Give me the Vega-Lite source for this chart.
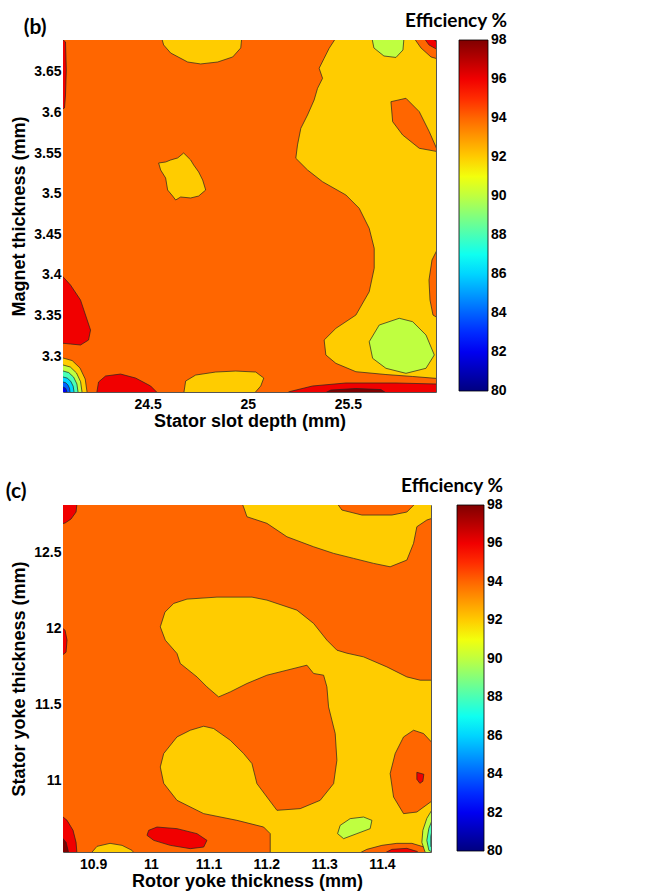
{
  "$schema": "https://vega.github.io/schema/vega-lite/v6.json",
  "padding": {"left": 5, "top": 12, "right": 160, "bottom": 2},
  "config": {
    "font": "Liberation Sans",
    "view": {"stroke": null},
    "axis": {
      "labelFont": "Liberation Sans", "labelFontSize": 14, "labelFontWeight": "bold", "labelColor": "black",
      "titleFont": "Liberation Sans", "titleFontSize": 18, "titleFontWeight": "bold", "titleColor": "black",
      "domainColor": "#555", "domainWidth": 1, "tickColor": "#444", "tickSize": -5,
      "grid": false, "zindex": 1
    },
    "axisX": {"labelPadding": 10.5},
    "axisY": {"labelPadding": 7},
    "title": {"font": "Lato", "fontSize": 21, "fontWeight": "bold", "color": "black", "anchor": "start", "frame": "bounds"}
  },
  "resolve": {"scale": {"x": "independent", "y": "independent", "color": "independent"}},
  "spacing": 46,
  "datasets": {
    "b": [
      {"id":"bg","z":0,"eff":94,"k":0,"x":24.07,"y":3.25},{"id":"bg","z":0,"eff":94,"k":1,"x":25.95,"y":3.25},{"id":"bg","z":0,"eff":94,"k":2,"x":25.95,"y":3.70},{"id":"bg","z":0,"eff":94,"k":3,"x":24.07,"y":3.70},

      {"id":"top","z":1,"eff":92,"k":0,"x":24.57,"y":3.6918},{"id":"top","z":1,"eff":92,"k":1,"x":24.58,"y":3.6832},{"id":"top","z":1,"eff":92,"k":2,"x":24.615,"y":3.6733},{"id":"top","z":1,"eff":92,"k":3,"x":24.70,"y":3.6622},{"id":"top","z":1,"eff":92,"k":4,"x":24.765,"y":3.6598},{"id":"top","z":1,"eff":92,"k":5,"x":24.85,"y":3.6622},{"id":"top","z":1,"eff":92,"k":6,"x":24.925,"y":3.6684},{"id":"top","z":1,"eff":92,"k":7,"x":24.965,"y":3.6795},{"id":"top","z":1,"eff":92,"k":8,"x":24.97,"y":3.6918},

      {"id":"east","z":1,"eff":92,"k":0,"x":25.95,"y":3.6918},{"id":"east","z":1,"eff":92,"k":1,"x":25.44,"y":3.6918},{"id":"east","z":1,"eff":92,"k":2,"x":25.4065,"y":3.6791},{"id":"east","z":1,"eff":92,"k":3,"x":25.3815,"y":3.6668},{"id":"east","z":1,"eff":92,"k":4,"x":25.3565,"y":3.6545},{"id":"east","z":1,"eff":92,"k":5,"x":25.3735,"y":3.6421},{"id":"east","z":1,"eff":92,"k":6,"x":25.3485,"y":3.6298},{"id":"east","z":1,"eff":92,"k":7,"x":25.3315,"y":3.6154},{"id":"east","z":1,"eff":92,"k":8,"x":25.2985,"y":3.5969},{"id":"east","z":1,"eff":92,"k":9,"x":25.265,"y":3.5805},{"id":"east","z":1,"eff":92,"k":10,"x":25.2485,"y":3.5600},{"id":"east","z":1,"eff":92,"k":11,"x":25.24,"y":3.5436},{"id":"east","z":1,"eff":92,"k":12,"x":25.2985,"y":3.5292},{"id":"east","z":1,"eff":92,"k":13,"x":25.3735,"y":3.5147},{"id":"east","z":1,"eff":92,"k":14,"x":25.49,"y":3.4984},{"id":"east","z":1,"eff":92,"k":15,"x":25.5565,"y":3.4820},{"id":"east","z":1,"eff":92,"k":16,"x":25.6065,"y":3.4573},{"id":"east","z":1,"eff":92,"k":17,"x":25.6315,"y":3.4327},{"id":"east","z":1,"eff":92,"k":18,"x":25.6315,"y":3.4081},{"id":"east","z":1,"eff":92,"k":19,"x":25.6065,"y":3.3792},{"id":"east","z":1,"eff":92,"k":20,"x":25.54,"y":3.3505},{"id":"east","z":1,"eff":92,"k":21,"x":25.44,"y":3.3341},{"id":"east","z":1,"eff":92,"k":22,"x":25.3815,"y":3.3197},{"id":"east","z":1,"eff":92,"k":23,"x":25.39,"y":3.3013},{"id":"east","z":1,"eff":92,"k":24,"x":25.44,"y":3.2910},{"id":"east","z":1,"eff":92,"k":25,"x":25.54,"y":3.2807},{"id":"east","z":1,"eff":92,"k":26,"x":25.69,"y":3.2772},{"id":"east","z":1,"eff":92,"k":27,"x":25.8235,"y":3.2748},{"id":"east","z":1,"eff":92,"k":28,"x":25.95,"y":3.2723},

      {"id":"hole","z":2,"eff":94,"k":0,"x":25.715,"y":3.6133},{"id":"hole","z":2,"eff":94,"k":1,"x":25.79,"y":3.6175},{"id":"hole","z":2,"eff":94,"k":2,"x":25.8565,"y":3.6010},{"id":"hole","z":2,"eff":94,"k":3,"x":25.9065,"y":3.5763},{"id":"hole","z":2,"eff":94,"k":4,"x":25.95,"y":3.5517},{"id":"hole","z":2,"eff":94,"k":5,"x":25.8565,"y":3.5559},{"id":"hole","z":2,"eff":94,"k":6,"x":25.7735,"y":3.5723},{"id":"hole","z":2,"eff":94,"k":7,"x":25.7235,"y":3.5887},

      {"id":"gtop","z":2,"eff":90,"k":0,"x":25.62,"y":3.6918},{"id":"gtop","z":2,"eff":90,"k":1,"x":25.63,"y":3.6795},{"id":"gtop","z":2,"eff":90,"k":2,"x":25.68,"y":3.6696},{"id":"gtop","z":2,"eff":90,"k":3,"x":25.74,"y":3.6678},{"id":"gtop","z":2,"eff":90,"k":4,"x":25.775,"y":3.6770},{"id":"gtop","z":2,"eff":90,"k":5,"x":25.78,"y":3.6918},

      {"id":"ow","z":2,"eff":94,"k":0,"x":25.83,"y":3.6918},{"id":"ow","z":2,"eff":94,"k":1,"x":25.865,"y":3.6795},{"id":"ow","z":2,"eff":94,"k":2,"x":25.915,"y":3.6684},{"id":"ow","z":2,"eff":94,"k":3,"x":25.95,"y":3.6659},{"id":"ow","z":2,"eff":94,"k":4,"x":25.95,"y":3.6918},
      {"id":"rw","z":3,"eff":96,"k":0,"x":25.88,"y":3.6918},{"id":"rw","z":3,"eff":96,"k":1,"x":25.905,"y":3.6832},{"id":"rw","z":3,"eff":96,"k":2,"x":25.95,"y":3.6770},{"id":"rw","z":3,"eff":96,"k":3,"x":25.95,"y":3.6918},
      {"id":"dw","z":4,"eff":98,"k":0,"x":25.92,"y":3.6918},{"id":"dw","z":4,"eff":98,"k":1,"x":25.95,"y":3.6856},{"id":"dw","z":4,"eff":98,"k":2,"x":25.95,"y":3.6918},

      {"id":"oe","z":2,"eff":94,"k":0,"x":25.95,"y":3.4331},{"id":"oe","z":2,"eff":94,"k":1,"x":25.92,"y":3.4183},{"id":"oe","z":2,"eff":94,"k":2,"x":25.905,"y":3.3936},{"id":"oe","z":2,"eff":94,"k":3,"x":25.91,"y":3.3690},{"id":"oe","z":2,"eff":94,"k":4,"x":25.925,"y":3.3505},{"id":"oe","z":2,"eff":94,"k":5,"x":25.95,"y":3.3468},

      {"id":"gb","z":2,"eff":90,"k":0,"x":25.6565,"y":3.3382},{"id":"gb","z":2,"eff":90,"k":1,"x":25.7565,"y":3.3465},{"id":"gb","z":2,"eff":90,"k":2,"x":25.8235,"y":3.3423},{"id":"gb","z":2,"eff":90,"k":3,"x":25.89,"y":3.3259},{"id":"gb","z":2,"eff":90,"k":4,"x":25.9315,"y":3.3013},{"id":"gb","z":2,"eff":90,"k":5,"x":25.89,"y":3.2849},{"id":"gb","z":2,"eff":90,"k":6,"x":25.79,"y":3.2787},{"id":"gb","z":2,"eff":90,"k":7,"x":25.69,"y":3.2849},{"id":"gb","z":2,"eff":90,"k":8,"x":25.6235,"y":3.2972},{"id":"gb","z":2,"eff":90,"k":9,"x":25.6065,"y":3.3176},

      {"id":"rs","z":1,"eff":96,"k":0,"x":25.19,"y":3.2532},{"id":"rs","z":1,"eff":96,"k":1,"x":25.2065,"y":3.2560},{"id":"rs","z":1,"eff":96,"k":2,"x":25.3235,"y":3.2631},{"id":"rs","z":1,"eff":96,"k":3,"x":25.49,"y":3.2668},{"id":"rs","z":1,"eff":96,"k":4,"x":25.74,"y":3.2668},{"id":"rs","z":1,"eff":96,"k":5,"x":25.95,"y":3.2655},{"id":"rs","z":1,"eff":96,"k":6,"x":25.95,"y":3.2532},
      {"id":"ds","z":2,"eff":98,"k":0,"x":25.375,"y":3.2532},{"id":"ds","z":2,"eff":98,"k":1,"x":25.415,"y":3.2581},{"id":"ds","z":2,"eff":98,"k":2,"x":25.54,"y":3.2600},{"id":"ds","z":2,"eff":98,"k":3,"x":25.665,"y":3.2587},{"id":"ds","z":2,"eff":98,"k":4,"x":25.70,"y":3.2532},

      {"id":"yb","z":1,"eff":92,"k":0,"x":24.68,"y":3.2532},{"id":"yb","z":1,"eff":92,"k":1,"x":24.69,"y":3.2692},{"id":"yb","z":1,"eff":92,"k":2,"x":24.74,"y":3.2766},{"id":"yb","z":1,"eff":92,"k":3,"x":24.84,"y":3.2803},{"id":"yb","z":1,"eff":92,"k":4,"x":24.94,"y":3.2815},{"id":"yb","z":1,"eff":92,"k":5,"x":25.04,"y":3.2803},{"id":"yb","z":1,"eff":92,"k":6,"x":25.08,"y":3.2729},{"id":"yb","z":1,"eff":92,"k":7,"x":25.065,"y":3.2631},{"id":"yb","z":1,"eff":92,"k":8,"x":25.03,"y":3.2532},

      {"id":"rbl","z":1,"eff":96,"k":0,"x":24.245,"y":3.2532},{"id":"rbl","z":1,"eff":96,"k":1,"x":24.255,"y":3.2680},{"id":"rbl","z":1,"eff":96,"k":2,"x":24.29,"y":3.2754},{"id":"rbl","z":1,"eff":96,"k":3,"x":24.365,"y":3.2778},{"id":"rbl","z":1,"eff":96,"k":4,"x":24.44,"y":3.2729},{"id":"rbl","z":1,"eff":96,"k":5,"x":24.515,"y":3.2631},{"id":"rbl","z":1,"eff":96,"k":6,"x":24.555,"y":3.2532},

      {"id":"rl","z":1,"eff":96,"k":0,"x":24.065,"y":3.4010},{"id":"rl","z":1,"eff":96,"k":1,"x":24.115,"y":3.3875},{"id":"rl","z":1,"eff":96,"k":2,"x":24.165,"y":3.3690},{"id":"rl","z":1,"eff":96,"k":3,"x":24.19,"y":3.3505},{"id":"rl","z":1,"eff":96,"k":4,"x":24.215,"y":3.3320},{"id":"rl","z":1,"eff":96,"k":5,"x":24.205,"y":3.3197},{"id":"rl","z":1,"eff":96,"k":6,"x":24.165,"y":3.3136},{"id":"rl","z":1,"eff":96,"k":7,"x":24.115,"y":3.3148},{"id":"rl","z":1,"eff":96,"k":8,"x":24.065,"y":3.3160},

      {"id":"rt","z":1,"eff":96,"k":0,"x":24.065,"y":3.6918},{"id":"rt","z":1,"eff":96,"k":1,"x":24.09,"y":3.6869},{"id":"rt","z":1,"eff":96,"k":2,"x":24.094,"y":3.6524},{"id":"rt","z":1,"eff":96,"k":3,"x":24.09,"y":3.6216},{"id":"rt","z":1,"eff":96,"k":4,"x":24.085,"y":3.6056},{"id":"rt","z":1,"eff":96,"k":5,"x":24.065,"y":3.6031},

      {"id":"c92","z":1,"eff":92,"k":0,"x":24.06,"y":3.25},{"id":"c92","z":1,"eff":92,"k":1,"x":24.1975,"y":3.25},{"id":"c92","z":1,"eff":92,"k":2,"x":24.1975,"y":3.2557},{"id":"c92","z":1,"eff":92,"k":3,"x":24.1884,"y":3.2717},{"id":"c92","z":1,"eff":92,"k":4,"x":24.1623,"y":3.2853},{"id":"c92","z":1,"eff":92,"k":5,"x":24.1234,"y":3.2944},{"id":"c92","z":1,"eff":92,"k":6,"x":24.0775,"y":3.2976},{"id":"c92","z":1,"eff":92,"k":7,"x":24.06,"y":3.2976},
      {"id":"c90","z":2,"eff":90,"k":0,"x":24.06,"y":3.25},{"id":"c90","z":2,"eff":90,"k":1,"x":24.1725,"y":3.25},{"id":"c90","z":2,"eff":90,"k":2,"x":24.1725,"y":3.2557},{"id":"c90","z":2,"eff":90,"k":3,"x":24.1653,"y":3.2684},{"id":"c90","z":2,"eff":90,"k":4,"x":24.1447,"y":3.2792},{"id":"c90","z":2,"eff":90,"k":5,"x":24.1139,"y":3.2865},{"id":"c90","z":2,"eff":90,"k":6,"x":24.0775,"y":3.2890},{"id":"c90","z":2,"eff":90,"k":7,"x":24.06,"y":3.2890},
      {"id":"c88","z":3,"eff":88,"k":0,"x":24.06,"y":3.25},{"id":"c88","z":3,"eff":88,"k":1,"x":24.1525,"y":3.25},{"id":"c88","z":3,"eff":88,"k":2,"x":24.1525,"y":3.2557},{"id":"c88","z":3,"eff":88,"k":3,"x":24.1468,"y":3.2656},{"id":"c88","z":3,"eff":88,"k":4,"x":24.1305,"y":3.2740},{"id":"c88","z":3,"eff":88,"k":5,"x":24.1062,"y":3.2796},{"id":"c88","z":3,"eff":88,"k":6,"x":24.0775,"y":3.2816},{"id":"c88","z":3,"eff":88,"k":7,"x":24.06,"y":3.2816},
      {"id":"c86","z":4,"eff":86,"k":0,"x":24.06,"y":3.25},{"id":"c86","z":4,"eff":86,"k":1,"x":24.1325,"y":3.25},{"id":"c86","z":4,"eff":86,"k":2,"x":24.1325,"y":3.2557},{"id":"c86","z":4,"eff":86,"k":3,"x":24.1283,"y":3.2628},{"id":"c86","z":4,"eff":86,"k":4,"x":24.1164,"y":3.2688},{"id":"c86","z":4,"eff":86,"k":5,"x":24.0986,"y":3.2728},{"id":"c86","z":4,"eff":86,"k":6,"x":24.0775,"y":3.2742},{"id":"c86","z":4,"eff":86,"k":7,"x":24.06,"y":3.2742},
      {"id":"c84","z":5,"eff":84,"k":0,"x":24.06,"y":3.25},{"id":"c84","z":5,"eff":84,"k":1,"x":24.1125,"y":3.25},{"id":"c84","z":5,"eff":84,"k":2,"x":24.1125,"y":3.2557},{"id":"c84","z":5,"eff":84,"k":3,"x":24.1098,"y":3.2604},{"id":"c84","z":5,"eff":84,"k":4,"x":24.1022,"y":3.2644},{"id":"c84","z":5,"eff":84,"k":5,"x":24.0909,"y":3.2671},{"id":"c84","z":5,"eff":84,"k":6,"x":24.0775,"y":3.2680},{"id":"c84","z":5,"eff":84,"k":7,"x":24.06,"y":3.2680},
      {"id":"c82","z":6,"eff":82,"k":0,"x":24.06,"y":3.25},{"id":"c82","z":6,"eff":82,"k":1,"x":24.0975,"y":3.25},{"id":"c82","z":6,"eff":82,"k":2,"x":24.0975,"y":3.2557},{"id":"c82","z":6,"eff":82,"k":3,"x":24.0916,"y":3.2601},{"id":"c82","z":6,"eff":82,"k":4,"x":24.0775,"y":3.2619},{"id":"c82","z":6,"eff":82,"k":5,"x":24.06,"y":3.2619},

      {"id":"isl","z":1,"eff":92,"k":0,"x":24.555,"y":3.5378},{"id":"isl","z":1,"eff":92,"k":1,"x":24.59,"y":3.5390},{"id":"isl","z":1,"eff":92,"k":2,"x":24.615,"y":3.5415},{"id":"isl","z":1,"eff":92,"k":3,"x":24.65,"y":3.5440},{"id":"isl","z":1,"eff":92,"k":4,"x":24.68,"y":3.5501},{"id":"isl","z":1,"eff":92,"k":5,"x":24.715,"y":3.5415},{"id":"isl","z":1,"eff":92,"k":6,"x":24.73,"y":3.5353},{"id":"isl","z":1,"eff":92,"k":7,"x":24.755,"y":3.5267},{"id":"isl","z":1,"eff":92,"k":8,"x":24.775,"y":3.5168},{"id":"isl","z":1,"eff":92,"k":9,"x":24.79,"y":3.5045},{"id":"isl","z":1,"eff":92,"k":10,"x":24.755,"y":3.4971},{"id":"isl","z":1,"eff":92,"k":11,"x":24.715,"y":3.4947},{"id":"isl","z":1,"eff":92,"k":12,"x":24.665,"y":3.4959},{"id":"isl","z":1,"eff":92,"k":13,"x":24.64,"y":3.4922},{"id":"isl","z":1,"eff":92,"k":14,"x":24.625,"y":3.4971},{"id":"isl","z":1,"eff":92,"k":15,"x":24.60,"y":3.5045},{"id":"isl","z":1,"eff":92,"k":16,"x":24.59,"y":3.5193},{"id":"isl","z":1,"eff":92,"k":17,"x":24.565,"y":3.5292}
    ],
    "c": [
      {"id":"bg","z":0,"eff":94,"k":0,"x":10.84,"y":10.51},{"id":"bg","z":0,"eff":94,"k":1,"x":11.49,"y":10.51},{"id":"bg","z":0,"eff":94,"k":2,"x":11.49,"y":12.83},{"id":"bg","z":0,"eff":94,"k":3,"x":10.84,"y":12.83},

      {"id":"top","z":1,"eff":92,"k":0,"x":11.1578,"y":12.828},{"id":"top","z":1,"eff":92,"k":1,"x":11.1612,"y":12.795},{"id":"top","z":1,"eff":92,"k":2,"x":11.1664,"y":12.7376},{"id":"top","z":1,"eff":92,"k":3,"x":11.201,"y":12.694},{"id":"top","z":1,"eff":92,"k":4,"x":11.2356,"y":12.6056},{"id":"top","z":1,"eff":92,"k":5,"x":11.2818,"y":12.5396},{"id":"top","z":1,"eff":92,"k":6,"x":11.3164,"y":12.496},{"id":"top","z":1,"eff":92,"k":7,"x":11.351,"y":12.463},{"id":"top","z":1,"eff":92,"k":8,"x":11.3856,"y":12.43},{"id":"top","z":1,"eff":92,"k":9,"x":11.4143,"y":12.4076},{"id":"top","z":1,"eff":92,"k":10,"x":11.4432,"y":12.4518},{"id":"top","z":1,"eff":92,"k":11,"x":11.4548,"y":12.562},{"id":"top","z":1,"eff":92,"k":12,"x":11.4605,"y":12.6716},{"id":"top","z":1,"eff":92,"k":13,"x":11.4778,"y":12.7158},{"id":"top","z":1,"eff":92,"k":14,"x":11.4882,"y":12.729},{"id":"top","z":1,"eff":92,"k":15,"x":11.4882,"y":12.828},

      {"id":"otop","z":2,"eff":94,"k":0,"x":11.3221,"y":12.828},{"id":"otop","z":2,"eff":94,"k":1,"x":11.3308,"y":12.7818},{"id":"otop","z":2,"eff":94,"k":2,"x":11.3654,"y":12.7488},{"id":"otop","z":2,"eff":94,"k":3,"x":11.4173,"y":12.7488},{"id":"otop","z":2,"eff":94,"k":4,"x":11.4432,"y":12.7686},{"id":"otop","z":2,"eff":94,"k":5,"x":11.4553,"y":12.8148},{"id":"otop","z":2,"eff":94,"k":6,"x":11.457,"y":12.828},

      {"id":"mid","z":1,"eff":92,"k":0,"x":11.0164,"y":12.0116},{"id":"mid","z":1,"eff":92,"k":1,"x":11.0245,"y":12.1086},{"id":"mid","z":1,"eff":92,"k":2,"x":11.0396,"y":12.166},{"id":"mid","z":1,"eff":92,"k":3,"x":11.0626,"y":12.1944},{"id":"mid","z":1,"eff":92,"k":4,"x":11.1145,"y":12.2076},{"id":"mid","z":1,"eff":92,"k":5,"x":11.1751,"y":12.2076},{"id":"mid","z":1,"eff":92,"k":6,"x":11.201,"y":12.1878},{"id":"mid","z":1,"eff":92,"k":7,"x":11.2529,"y":12.1218},{"id":"mid","z":1,"eff":92,"k":8,"x":11.2818,"y":12.034},{"id":"mid","z":1,"eff":92,"k":9,"x":11.3048,"y":11.9238},{"id":"mid","z":1,"eff":92,"k":10,"x":11.3221,"y":11.8578},{"id":"mid","z":1,"eff":92,"k":11,"x":11.3394,"y":11.838},{"id":"mid","z":1,"eff":92,"k":12,"x":11.3683,"y":11.8136},{"id":"mid","z":1,"eff":92,"k":13,"x":11.4086,"y":11.7476},{"id":"mid","z":1,"eff":92,"k":14,"x":11.4432,"y":11.6816},{"id":"mid","z":1,"eff":92,"k":15,"x":11.4662,"y":11.6598},{"id":"mid","z":1,"eff":92,"k":16,"x":11.4882,"y":11.6598},{"id":"mid","z":1,"eff":92,"k":17,"x":11.4882,"y":10.5114},{"id":"mid","z":1,"eff":92,"k":18,"x":11.2067,"y":10.5114},{"id":"mid","z":1,"eff":92,"k":19,"x":11.2067,"y":10.648},{"id":"mid","z":1,"eff":92,"k":20,"x":11.1953,"y":10.6916},{"id":"mid","z":1,"eff":92,"k":21,"x":11.1491,"y":10.7358},{"id":"mid","z":1,"eff":92,"k":22,"x":11.0915,"y":10.78},{"id":"mid","z":1,"eff":92,"k":23,"x":11.0453,"y":10.8678},{"id":"mid","z":1,"eff":92,"k":24,"x":11.0223,"y":10.98},{"id":"mid","z":1,"eff":92,"k":25,"x":11.0164,"y":11.0876},{"id":"mid","z":1,"eff":92,"k":26,"x":11.0223,"y":11.176},{"id":"mid","z":1,"eff":92,"k":27,"x":11.0453,"y":11.2856},{"id":"mid","z":1,"eff":92,"k":28,"x":11.0683,"y":11.3298},{"id":"mid","z":1,"eff":92,"k":29,"x":11.0915,"y":11.3562},{"id":"mid","z":1,"eff":92,"k":30,"x":11.1088,"y":11.341},{"id":"mid","z":1,"eff":92,"k":31,"x":11.1375,"y":11.2638},{"id":"mid","z":1,"eff":92,"k":32,"x":11.1607,"y":11.176},{"id":"mid","z":1,"eff":92,"k":33,"x":11.1751,"y":11.11},{"id":"mid","z":1,"eff":92,"k":34,"x":11.1837,"y":10.978},{"id":"mid","z":1,"eff":92,"k":35,"x":11.201,"y":10.8896},{"id":"mid","z":1,"eff":92,"k":36,"x":11.2183,"y":10.8018},{"id":"mid","z":1,"eff":92,"k":37,"x":11.2586,"y":10.813},{"id":"mid","z":1,"eff":92,"k":38,"x":11.2932,"y":10.8678},{"id":"mid","z":1,"eff":92,"k":39,"x":11.3164,"y":10.978},{"id":"mid","z":1,"eff":92,"k":40,"x":11.3221,"y":11.1318},{"id":"mid","z":1,"eff":92,"k":41,"x":11.3192,"y":11.308},{"id":"mid","z":1,"eff":92,"k":42,"x":11.3077,"y":11.4836},{"id":"mid","z":1,"eff":92,"k":43,"x":11.3048,"y":11.6156},{"id":"mid","z":1,"eff":92,"k":44,"x":11.2991,"y":11.6928},{"id":"mid","z":1,"eff":92,"k":45,"x":11.2818,"y":11.704},{"id":"mid","z":1,"eff":92,"k":46,"x":11.2702,"y":11.7588},{"id":"mid","z":1,"eff":92,"k":47,"x":11.2356,"y":11.7258},{"id":"mid","z":1,"eff":92,"k":48,"x":11.201,"y":11.6928},{"id":"mid","z":1,"eff":92,"k":49,"x":11.1664,"y":11.638},{"id":"mid","z":1,"eff":92,"k":50,"x":11.1375,"y":11.5826},{"id":"mid","z":1,"eff":92,"k":51,"x":11.1174,"y":11.5496},{"id":"mid","z":1,"eff":92,"k":52,"x":11.0972,"y":11.6156},{"id":"mid","z":1,"eff":92,"k":53,"x":11.0799,"y":11.6816},{"id":"mid","z":1,"eff":92,"k":54,"x":11.051,"y":11.77},{"id":"mid","z":1,"eff":92,"k":55,"x":11.0453,"y":11.836},{"id":"mid","z":1,"eff":92,"k":56,"x":11.0251,"y":11.9238},

      {"id":"oe","z":2,"eff":94,"k":0,"x":11.4548,"y":11.3298},{"id":"oe","z":2,"eff":94,"k":1,"x":11.4721,"y":11.308},{"id":"oe","z":2,"eff":94,"k":2,"x":11.4882,"y":11.242},{"id":"oe","z":2,"eff":94,"k":3,"x":11.4882,"y":10.8678},{"id":"oe","z":2,"eff":94,"k":4,"x":11.4605,"y":10.7906},{"id":"oe","z":2,"eff":94,"k":5,"x":11.4375,"y":10.78},{"id":"oe","z":2,"eff":94,"k":6,"x":11.4202,"y":10.8896},{"id":"oe","z":2,"eff":94,"k":7,"x":11.4143,"y":11.044},{"id":"oe","z":2,"eff":94,"k":8,"x":11.423,"y":11.176},{"id":"oe","z":2,"eff":94,"k":9,"x":11.4375,"y":11.2856},
      {"id":"dot","z":3,"eff":96,"k":0,"x":11.4605,"y":11.0526},{"id":"dot","z":3,"eff":96,"k":1,"x":11.4726,"y":11.0394},{"id":"dot","z":3,"eff":96,"k":2,"x":11.4709,"y":10.9932},{"id":"dot","z":3,"eff":96,"k":3,"x":11.4657,"y":10.98},{"id":"dot","z":3,"eff":96,"k":4,"x":11.4605,"y":11.0064},

      {"id":"gb","z":2,"eff":90,"k":0,"x":11.3278,"y":10.7028},{"id":"gb","z":2,"eff":90,"k":1,"x":11.3451,"y":10.747},{"id":"gb","z":2,"eff":90,"k":2,"x":11.3683,"y":10.7576},{"id":"gb","z":2,"eff":90,"k":3,"x":11.3827,"y":10.7358},{"id":"gb","z":2,"eff":90,"k":4,"x":11.3797,"y":10.681},{"id":"gb","z":2,"eff":90,"k":5,"x":11.3567,"y":10.648},{"id":"gb","z":2,"eff":90,"k":6,"x":11.3337,"y":10.615},{"id":"gb","z":2,"eff":90,"k":7,"x":11.3233,"y":10.648},

      {"id":"obr","z":2,"eff":94,"k":0,"x":11.3567,"y":10.5114},{"id":"obr","z":2,"eff":94,"k":1,"x":11.374,"y":10.5444},{"id":"obr","z":2,"eff":94,"k":2,"x":11.4,"y":10.5708},{"id":"obr","z":2,"eff":94,"k":3,"x":11.4259,"y":10.584},{"id":"obr","z":2,"eff":94,"k":4,"x":11.4519,"y":10.584},{"id":"obr","z":2,"eff":94,"k":5,"x":11.4692,"y":10.5642},{"id":"obr","z":2,"eff":94,"k":6,"x":11.4882,"y":10.5378},{"id":"obr","z":2,"eff":94,"k":7,"x":11.4882,"y":10.5114},
      {"id":"rbr","z":3,"eff":96,"k":0,"x":11.4,"y":10.5114},{"id":"rbr","z":3,"eff":96,"k":1,"x":11.4173,"y":10.5444},{"id":"rbr","z":3,"eff":96,"k":2,"x":11.4432,"y":10.551},{"id":"rbr","z":3,"eff":96,"k":3,"x":11.4605,"y":10.5312},{"id":"rbr","z":3,"eff":96,"k":4,"x":11.4674,"y":10.5114},

      {"id":"c90","z":3,"eff":90,"k":0,"x":11.4882,"y":10.815},{"id":"c90","z":3,"eff":90,"k":1,"x":11.4778,"y":10.749},{"id":"c90","z":3,"eff":90,"k":2,"x":11.4709,"y":10.6698},{"id":"c90","z":3,"eff":90,"k":3,"x":11.4692,"y":10.5906},{"id":"c90","z":3,"eff":90,"k":4,"x":11.4743,"y":10.5312},{"id":"c90","z":3,"eff":90,"k":5,"x":11.4795,"y":10.5114},{"id":"c90","z":3,"eff":90,"k":6,"x":11.4882,"y":10.5114},
      {"id":"c88","z":4,"eff":88,"k":0,"x":11.4882,"y":10.749},{"id":"c88","z":4,"eff":88,"k":1,"x":11.4813,"y":10.683},{"id":"c88","z":4,"eff":88,"k":2,"x":11.4778,"y":10.6038},{"id":"c88","z":4,"eff":88,"k":3,"x":11.4813,"y":10.5378},{"id":"c88","z":4,"eff":88,"k":4,"x":11.4882,"y":10.5246},
      {"id":"c86","z":5,"eff":86,"k":0,"x":11.4882,"y":10.6962},{"id":"c86","z":5,"eff":86,"k":1,"x":11.4847,"y":10.6302},{"id":"c86","z":5,"eff":86,"k":2,"x":11.4847,"y":10.5642},{"id":"c86","z":5,"eff":86,"k":3,"x":11.4882,"y":10.5444},

      {"id":"rtl","z":1,"eff":96,"k":0,"x":10.8446,"y":12.828},{"id":"rtl","z":1,"eff":96,"k":1,"x":10.8723,"y":12.828},{"id":"rtl","z":1,"eff":96,"k":2,"x":10.8706,"y":12.7686},{"id":"rtl","z":1,"eff":96,"k":3,"x":10.8619,"y":12.7224},{"id":"rtl","z":1,"eff":96,"k":4,"x":10.8515,"y":12.696},{"id":"rtl","z":1,"eff":96,"k":5,"x":10.8446,"y":12.6894},

      {"id":"rl","z":1,"eff":96,"k":0,"x":10.8446,"y":12.0096},{"id":"rl","z":1,"eff":96,"k":1,"x":10.8515,"y":11.9898},{"id":"rl","z":1,"eff":96,"k":2,"x":10.855,"y":11.9238},{"id":"rl","z":1,"eff":96,"k":3,"x":10.8533,"y":11.8446},{"id":"rl","z":1,"eff":96,"k":4,"x":10.8446,"y":11.8182},

      {"id":"rbl","z":1,"eff":96,"k":0,"x":10.8446,"y":10.7688},{"id":"rbl","z":1,"eff":96,"k":1,"x":10.855,"y":10.7358},{"id":"rbl","z":1,"eff":96,"k":2,"x":10.8654,"y":10.6698},{"id":"rbl","z":1,"eff":96,"k":3,"x":10.8706,"y":10.5906},{"id":"rbl","z":1,"eff":96,"k":4,"x":10.8723,"y":10.5114},{"id":"rbl","z":1,"eff":96,"k":5,"x":10.8446,"y":10.5114},
      {"id":"dbl","z":2,"eff":98,"k":0,"x":10.8446,"y":10.6302},{"id":"dbl","z":2,"eff":98,"k":1,"x":10.8533,"y":10.5906},{"id":"dbl","z":2,"eff":98,"k":2,"x":10.8585,"y":10.5114},{"id":"dbl","z":2,"eff":98,"k":3,"x":10.8446,"y":10.5114},

      {"id":"ybl","z":1,"eff":92,"k":0,"x":10.8948,"y":10.5114},{"id":"ybl","z":1,"eff":92,"k":1,"x":10.9069,"y":10.5642},{"id":"ybl","z":1,"eff":92,"k":2,"x":10.9294,"y":10.584},{"id":"ybl","z":1,"eff":92,"k":3,"x":10.9502,"y":10.5708},{"id":"ybl","z":1,"eff":92,"k":4,"x":10.9675,"y":10.5378},{"id":"ybl","z":1,"eff":92,"k":5,"x":10.9726,"y":10.5114},

      {"id":"rb","z":1,"eff":96,"k":0,"x":10.9963,"y":10.6698},{"id":"rb","z":1,"eff":96,"k":1,"x":11.0107,"y":10.6916},{"id":"rb","z":1,"eff":96,"k":2,"x":11.0453,"y":10.681},{"id":"rb","z":1,"eff":96,"k":3,"x":11.0799,"y":10.648},{"id":"rb","z":1,"eff":96,"k":4,"x":11.0972,"y":10.6038},{"id":"rb","z":1,"eff":96,"k":5,"x":11.0915,"y":10.5596},{"id":"rb","z":1,"eff":96,"k":6,"x":11.0683,"y":10.549},{"id":"rb","z":1,"eff":96,"k":7,"x":11.0337,"y":10.5708},{"id":"rb","z":1,"eff":96,"k":8,"x":11.005,"y":10.6038},{"id":"rb","z":1,"eff":96,"k":9,"x":10.9934,"y":10.6368}
    ]
  },
  "vconcat": [
    {
      "data": {"name": "b"},
      "width": 373,
      "height": 352,
      "title": {"text": "(b)", "dx": 13, "offset": -26},
      "encoding": {
        "x": {"field": "x", "type": "quantitative", "scale": {"domain": [24.0775, 25.94], "nice": false, "zero": false}, "axis": null},
        "y": {"field": "y", "type": "quantitative", "scale": {"domain": [3.2557, 3.6893], "nice": false, "zero": false}, "axis": null},
        "color": {
          "field": "eff", "type": "quantitative",
          "scale": {"domain": [80, 82.25, 86.75, 90, 91.25, 92, 94, 95.75, 98], "range": ["#000080", "#0000ff", "#00ffff", "#bfff40", "#ffff00", "#ffcc00", "#ff6600", "#ff0000", "#800000"], "interpolate": "rgb"},
          "legend": {
            "title": "Efficiency %", "orient": "none", "direction": "vertical", "legendX": 342, "legendY": -28,
            "titleFont": "Lato", "titleFontSize": 19, "titleFontWeight": "bold", "titleColor": "black", "titleAnchor": "end", "titlePadding": 9,
            "gradientLength": 351, "gradientThickness": 29, "gradientStrokeColor": "black", "gradientStrokeWidth": 0.8,
            "values": [80, 82, 84, 86, 88, 90, 92, 94, 96, 98],
            "labelFont": "Liberation Sans", "labelFontSize": 14, "labelFontWeight": "bold", "labelColor": "black", "labelOffset": 3, "padding": 0,
            "encode": {"labels": {"update": {"baseline": {"value": "middle"}}}}
          }
        },
        "detail": {"field": "id"},
        "order": {"field": "k", "type": "quantitative"}
      },
      "layer": [
        {
          "transform": [{"filter": "datum.z == 0"}],
          "mark": {"type": "line", "filled": true, "interpolate": "linear-closed", "stroke": "#222", "strokeWidth": 0.7, "clip": true},
          "encoding": {
            "x": {"field": "x", "type": "quantitative", "scale": {"domain": [24.0775, 25.94], "nice": false, "zero": false},
                  "axis": {"values": [24.5, 25, 25.5], "format": "~g", "title": "Stator slot depth (mm)", "titlePadding": 1}},
            "y": {"field": "y", "type": "quantitative", "scale": {"domain": [3.2557, 3.6893], "nice": false, "zero": false},
                  "axis": {"values": [3.3, 3.35, 3.4, 3.45, 3.5, 3.55, 3.6, 3.65], "format": "~g", "title": "Magnet thickness (mm)", "titlePadding": 5}}
          }
        },
        {
          "transform": [{"filter": "datum.z == 1"}],
          "mark": {"type": "line", "filled": true, "interpolate": "linear-closed", "stroke": "#222", "strokeWidth": 0.7, "clip": true},
          "encoding": {
            "x": {"field": "x", "type": "quantitative", "scale": {"domain": [24.0775, 25.94], "nice": false, "zero": false},
                  "axis": {"orient": "top", "values": [24.5, 25, 25.5], "labels": false, "title": null}},
            "y": {"field": "y", "type": "quantitative", "scale": {"domain": [3.2557, 3.6893], "nice": false, "zero": false},
                  "axis": {"orient": "right", "values": [3.3, 3.35, 3.4, 3.45, 3.5, 3.55, 3.6, 3.65], "labels": false, "title": null}}
          }
        },
        {"transform": [{"filter": "datum.z == 2"}], "mark": {"type": "line", "filled": true, "interpolate": "linear-closed", "stroke": "#222", "strokeWidth": 0.7, "clip": true}},
        {"transform": [{"filter": "datum.z == 3"}], "mark": {"type": "line", "filled": true, "interpolate": "linear-closed", "stroke": "#222", "strokeWidth": 0.7, "clip": true}},
        {"transform": [{"filter": "datum.z == 4"}], "mark": {"type": "line", "filled": true, "interpolate": "linear-closed", "stroke": "#222", "strokeWidth": 0.7, "clip": true}},
        {"transform": [{"filter": "datum.z == 5"}], "mark": {"type": "line", "filled": true, "interpolate": "linear-closed", "stroke": "#222", "strokeWidth": 0.7, "clip": true}},
        {"transform": [{"filter": "datum.z == 6"}], "mark": {"type": "line", "filled": true, "interpolate": "linear-closed", "stroke": "#222", "strokeWidth": 0.7, "clip": true}}
      ],
      "resolve": {"axis": {"x": "independent", "y": "independent"}}
    },
    {
      "data": {"name": "c"},
      "width": 368,
      "height": 347,
      "title": {"text": "(c)", "dx": -5, "offset": -25},
      "encoding": {
        "x": {"field": "x", "type": "quantitative", "scale": {"domain": [10.848, 11.485], "nice": false, "zero": false}, "axis": null},
        "y": {"field": "y", "type": "quantitative", "scale": {"domain": [10.527, 12.815], "nice": false, "zero": false}, "axis": null},
        "color": {
          "field": "eff", "type": "quantitative",
          "scale": {"domain": [80, 82.25, 86.75, 90, 91.25, 92, 94, 95.75, 98], "range": ["#000080", "#0000ff", "#00ffff", "#bfff40", "#ffff00", "#ffcc00", "#ff6600", "#ff0000", "#800000"], "interpolate": "rgb"},
          "legend": {
            "title": "Efficiency %", "orient": "none", "direction": "vertical", "legendX": 338, "legendY": -28,
            "titleFont": "Lato", "titleFontSize": 19, "titleFontWeight": "bold", "titleColor": "black", "titleAnchor": "end", "titlePadding": 9,
            "gradientLength": 346, "gradientThickness": 27, "gradientStrokeColor": "black", "gradientStrokeWidth": 0.8,
            "values": [80, 82, 84, 86, 88, 90, 92, 94, 96, 98],
            "labelFont": "Liberation Sans", "labelFontSize": 14, "labelFontWeight": "bold", "labelColor": "black", "labelOffset": 3, "padding": 0,
            "encode": {"labels": {"update": {"baseline": {"value": "middle"}}}}
          }
        },
        "detail": {"field": "id"},
        "order": {"field": "k", "type": "quantitative"}
      },
      "layer": [
        {
          "transform": [{"filter": "datum.z == 0"}],
          "mark": {"type": "line", "filled": true, "interpolate": "linear-closed", "stroke": "#222", "strokeWidth": 0.7, "clip": true},
          "encoding": {
            "x": {"field": "x", "type": "quantitative", "scale": {"domain": [10.848, 11.485], "nice": false, "zero": false},
                  "axis": {"values": [10.9, 11, 11.1, 11.2, 11.3, 11.4], "format": "~g", "title": "Rotor yoke thickness (mm)", "titlePadding": 1}},
            "y": {"field": "y", "type": "quantitative", "scale": {"domain": [10.527, 12.815], "nice": false, "zero": false},
                  "axis": {"values": [11, 11.5, 12, 12.5], "format": "~g", "title": "Stator yoke thickness (mm)", "titlePadding": 5}}
          }
        },
        {
          "transform": [{"filter": "datum.z == 1"}],
          "mark": {"type": "line", "filled": true, "interpolate": "linear-closed", "stroke": "#222", "strokeWidth": 0.7, "clip": true},
          "encoding": {
            "x": {"field": "x", "type": "quantitative", "scale": {"domain": [10.848, 11.485], "nice": false, "zero": false},
                  "axis": {"orient": "top", "values": [10.9, 11, 11.1, 11.2, 11.3, 11.4], "labels": false, "title": null}},
            "y": {"field": "y", "type": "quantitative", "scale": {"domain": [10.527, 12.815], "nice": false, "zero": false},
                  "axis": {"orient": "right", "values": [11, 11.5, 12, 12.5], "labels": false, "title": null}}
          }
        },
        {"transform": [{"filter": "datum.z == 2"}], "mark": {"type": "line", "filled": true, "interpolate": "linear-closed", "stroke": "#222", "strokeWidth": 0.7, "clip": true}},
        {"transform": [{"filter": "datum.z == 3"}], "mark": {"type": "line", "filled": true, "interpolate": "linear-closed", "stroke": "#222", "strokeWidth": 0.7, "clip": true}},
        {"transform": [{"filter": "datum.z == 4"}], "mark": {"type": "line", "filled": true, "interpolate": "linear-closed", "stroke": "#222", "strokeWidth": 0.7, "clip": true}},
        {"transform": [{"filter": "datum.z == 5"}], "mark": {"type": "line", "filled": true, "interpolate": "linear-closed", "stroke": "#222", "strokeWidth": 0.7, "clip": true}}
      ],
      "resolve": {"axis": {"x": "independent", "y": "independent"}}
    }
  ]
}
